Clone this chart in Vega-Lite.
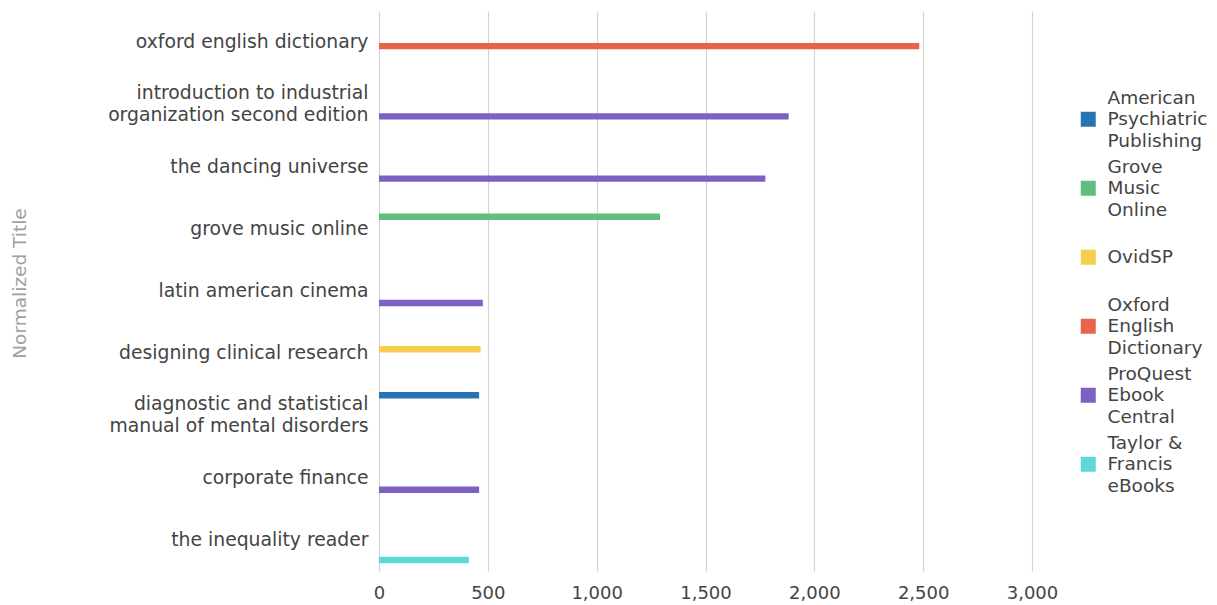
{
  "$schema": "https://vega.github.io/schema/vega-lite/v6.json",
  "width": 653,
  "height": 560,
  "autosize": "none",
  "padding": {"left": 379, "top": 11, "right": 185, "bottom": 34},
  "background": "white",
  "config": {"font": "DejaVu Sans", "view": {"stroke": null}},
  "data": {
    "values": [
      {"title": "oxford english dictionary", "platform": "Oxford English Dictionary", "count": 2482},
      {"title": "introduction to industrial organization second edition", "platform": "ProQuest Ebook Central", "count": 1882},
      {"title": "the dancing universe", "platform": "ProQuest Ebook Central", "count": 1775},
      {"title": "grove music online", "platform": "Grove Music Online", "count": 1291},
      {"title": "latin american cinema", "platform": "ProQuest Ebook Central", "count": 477},
      {"title": "designing clinical research", "platform": "OvidSP", "count": 467},
      {"title": "diagnostic and statistical manual of mental disorders", "platform": "American Psychiatric Publishing", "count": 460},
      {"title": "corporate finance", "platform": "ProQuest Ebook Central", "count": 460},
      {"title": "the inequality reader", "platform": "Taylor & Francis eBooks", "count": 413}
    ]
  },
  "mark": {"type": "bar"},
  "encoding": {
    "y": {
      "field": "title",
      "type": "nominal",
      "sort": ["oxford english dictionary", "introduction to industrial organization second edition", "the dancing universe", "grove music online", "latin american cinema", "designing clinical research", "diagnostic and statistical manual of mental disorders", "corporate finance", "the inequality reader"],
      "scale": {"paddingInner": 0.25, "paddingOuter": 0.125},
      "axis": {
        "title": "Normalized Title",
        "titleColor": "#a0a0a0",
        "titleFontWeight": "normal",
        "titleFontSize": 18.5,
        "titleX": -360,
        "titleY": 272,
        "titleBaseline": "middle",
        "titleAlign": "center",
        "titleAngle": -90,
        "domain": false,
        "ticks": false,
        "grid": false,
        "labelFontSize": 18.8,
        "labelColor": "#444444",
        "labelPadding": 11,
        "labelLimit": 400,
        "labelLineHeight": 22,
        "labelOffset": {"condition": {"test": "datum.value == 'introduction to industrial organization second edition' || datum.value == 'diagnostic and statistical manual of mental disorders'", "value": -11}, "value": 0},
        "labelExpr": "datum.value == 'introduction to industrial organization second edition' ? ['introduction to industrial', 'organization second edition'] : datum.value == 'diagnostic and statistical manual of mental disorders' ? ['diagnostic and statistical', 'manual of mental disorders'] : datum.value"
      }
    },
    "yOffset": {
      "field": "platform",
      "type": "nominal",
      "sort": ["American Psychiatric Publishing", "Grove Music Online", "OvidSP", "Oxford English Dictionary", "ProQuest Ebook Central", "Taylor & Francis eBooks"],
      "scale": {"domain": ["American Psychiatric Publishing", "Grove Music Online", "OvidSP", "Oxford English Dictionary", "ProQuest Ebook Central", "Taylor & Francis eBooks"], "paddingInner": 0.2, "paddingOuter": 0}
    },
    "x": {
      "field": "count",
      "type": "quantitative",
      "scale": {"domain": [0, 3000], "nice": false},
      "axis": {
        "title": null,
        "values": [0, 500, 1000, 1500, 2000, 2500, 3000],
        "format": ",.0f",
        "grid": true,
        "gridColor": "#d3d3d3",
        "gridWidth": 1.2,
        "domain": false,
        "ticks": false,
        "labelFlush": false,
        "labelFontSize": 18,
        "labelColor": "#444444",
        "labelPadding": 13
      }
    },
    "color": {
      "field": "platform",
      "type": "nominal",
      "scale": {
        "domain": ["American Psychiatric Publishing", "Grove Music Online", "OvidSP", "Oxford English Dictionary", "ProQuest Ebook Central", "Taylor & Francis eBooks"],
        "range": ["#2874b2", "#5fbf7e", "#f6cd4e", "#ea6249", "#7e5fc4", "#5dd8d9"]
      },
      "legend": {
        "orient": "none",
        "legendX": 700,
        "legendY": 99,
        "title": null,
        "symbolType": "square",
        "symbolSize": 225,
        "symbolStrokeWidth": 0,
        "labelFontSize": 18.5,
        "labelColor": "#444444",
        "labelOffset": 10,
        "labelLimit": 200,
        "rowPadding": 6,
        "encode": {"labels": {"update": {"dy": {"value": -21.7}, "lineHeight": {"value": 21.7}}}},
        "labelExpr": "datum.label == 'American Psychiatric Publishing' ? ['American', 'Psychiatric', 'Publishing'] : datum.label == 'Grove Music Online' ? ['Grove', 'Music', 'Online'] : datum.label == 'OvidSP' ? [' ', 'OvidSP', ' '] : datum.label == 'Oxford English Dictionary' ? ['Oxford', 'English', 'Dictionary'] : datum.label == 'ProQuest Ebook Central' ? ['ProQuest', 'Ebook', 'Central'] : ['Taylor &', 'Francis', 'eBooks']"
      }
    }
  }
}
